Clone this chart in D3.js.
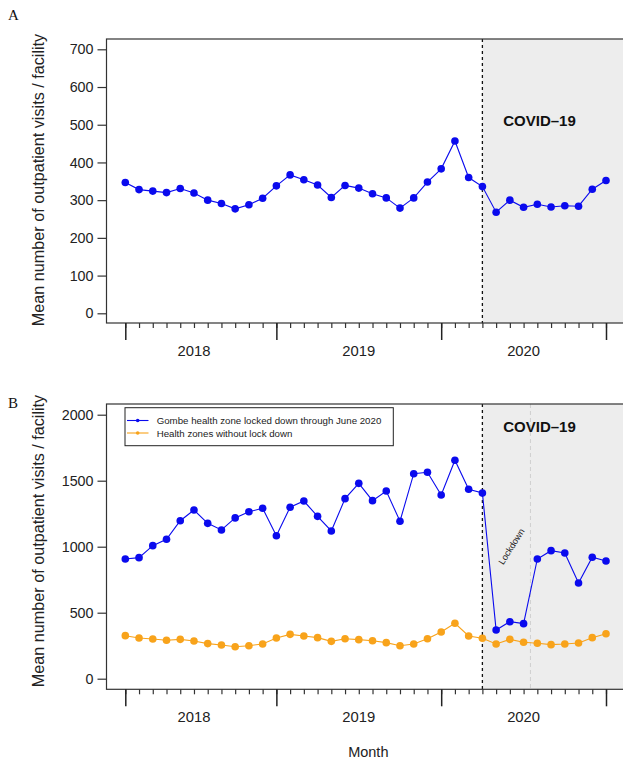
<!DOCTYPE html>
<html>
<head>
<meta charset="utf-8">
<script src="https://cdn.jsdelivr.net/npm/d3@7"></script>
<style>
html,body{margin:0;padding:0;background:#fff;overflow:hidden;}
svg{display:block;}
</style>
</head>
<body>
<svg id="chart" width="623" height="761"></svg>
<script>
// ---- data ----
const months = d3.range(36); // Jan 2018 .. Dec 2020 (month index)
const yearLabels = ["2018", "2019", "2020"];
const yearLabelIdx = [5, 17, 29];
const majorTickIdx = [0, 11, 23, 35];
const covidStartIdx = 26;
const lockdownEndIdx = 29.5;

const allZones = [347, 328, 324, 320, 331, 319, 300, 291, 277, 288, 305, 338,
                  367, 354, 340, 307, 339, 332, 317, 306, 279, 306, 348, 383,
                  457, 360, 336, 268, 300, 281, 289, 282, 285, 284, 329, 352];

const gombe = [907, 917, 1008, 1056, 1197, 1278, 1177, 1127, 1218, 1265, 1291, 1083,
               1299, 1346, 1230, 1119, 1364, 1480, 1349, 1422, 1193, 1553, 1564, 1392,
               1655, 1435, 1407, 369, 432, 417, 907, 970, 952, 725, 920, 892];

const otherZones = [326, 308, 301, 291, 298, 286, 266, 255, 242, 250, 263, 308,
                    336, 323, 311, 283, 303, 296, 288, 273, 250, 263, 303, 354,
                    420, 324, 306, 263, 298, 276, 268, 258, 263, 271, 311, 341];

const ticksA = [0, 100, 200, 300, 400, 500, 600, 700];
const ticksB = [0, 500, 1000, 1500, 2000];
const legendLabels = ["Gombe health zone locked down through June 2020", "Health zones without lock down"];

// ---- style ----
const BLUE = "#0a0aee";
const ORANGE = "#f8a31b";
const FONT = "'Liberation Sans', Arial, Helvetica, sans-serif";

const svg = d3.select("#chart");
const x = d3.scaleLinear().domain([0, 35]).range([125.3, 606]);

function panel(opts) {
  const g = svg.append("g");
  const y = d3.scaleLinear().domain(opts.domain).range(opts.yRange);
  const L = 106.5, R = 660, T = opts.top, B = opts.bottom;

  // shaded COVID region
  g.append("rect").attr("x", x(covidStartIdx)).attr("y", T)
    .attr("width", R - x(covidStartIdx)).attr("height", B - T)
    .attr("fill", "#ededed");

  if (opts.lockdown) {
    g.append("line").attr("x1", x(lockdownEndIdx)).attr("x2", x(lockdownEndIdx))
      .attr("y1", T).attr("y2", B)
      .attr("stroke", "#cfcfcf").attr("stroke-width", 1).attr("stroke-dasharray", "4,3");
    g.append("text")
      .attr("transform", `translate(${511.5},${546.5}) rotate(-58)`)
      .attr("text-anchor", "middle").attr("dominant-baseline", "central")
      .attr("font-family", FONT).attr("font-size", 9).attr("fill", "#222")
      .text("Lockdown");
  }

  // COVID dashed line
  g.append("line").attr("x1", x(covidStartIdx)).attr("x2", x(covidStartIdx))
    .attr("y1", T).attr("y2", B)
    .attr("stroke", "#111").attr("stroke-width", 1.3).attr("stroke-dasharray", "3,3");

  g.append("text").attr("x", 539.5).attr("y", opts.covidY)
    .attr("text-anchor", "middle").attr("dominant-baseline", "central")
    .attr("font-family", FONT).attr("font-size", 15).attr("font-weight", "bold")
    .attr("fill", "#111").text("COVID\u201319");

  // box
  g.append("rect").attr("x", L).attr("y", T).attr("width", R - L).attr("height", B - T)
    .attr("fill", "none").attr("stroke", "#333").attr("stroke-width", 1.2);

  // y axis
  const yAxis = d3.axisLeft(y).tickValues(opts.ticks).tickSize(9).tickPadding(4)
    .tickFormat(d3.format("d"));
  const ya = g.append("g").attr("transform", `translate(${L},0)`).call(yAxis);
  ya.select(".domain").remove();
  ya.selectAll("line").attr("stroke", "#333").attr("stroke-width", 1.2);
  ya.selectAll("text").attr("font-family", FONT).attr("font-size", 14.3).attr("fill", "#222");

  // x axis minor ticks
  const xMinor = d3.axisBottom(x).tickValues(months).tickSize(5).tickFormat("");
  const xm = g.append("g").attr("transform", `translate(0,${B})`).call(xMinor);
  xm.select(".domain").remove();
  xm.selectAll("line").attr("stroke", "#333").attr("stroke-width", 1.2);
  // major ticks
  const xMajor = d3.axisBottom(x).tickValues(majorTickIdx).tickSize(17).tickFormat("");
  const xM = g.append("g").attr("transform", `translate(0,${B})`).call(xMajor);
  xM.select(".domain").remove();
  xM.selectAll("line").attr("stroke", "#222").attr("stroke-width", 1.5);

  // year labels
  g.selectAll(".yr").data(yearLabels).enter().append("text")
    .attr("x", (d, i) => x(yearLabelIdx[i])).attr("y", opts.yearY)
    .attr("text-anchor", "middle").attr("dominant-baseline", "central")
    .attr("font-family", FONT).attr("font-size", 14.8).attr("fill", "#222")
    .text(d => d);

  // y title
  g.append("text")
    .attr("transform", `translate(37.5,${opts.titleY}) rotate(-90)`)
    .attr("text-anchor", "middle").attr("dominant-baseline", "central")
    .attr("font-family", FONT).attr("font-size", 16.2).attr("fill", "#222")
    .text("Mean number of outpatient visits / facility");

  // panel letter
  svg.append("text").attr("x", 8).attr("y", opts.letterY)
    .attr("font-family", "'Liberation Serif', 'Times New Roman', serif")
    .attr("font-size", 15).attr("fill", "#111").text(opts.letter);

  // series
  opts.series.forEach(s => {
    g.append("path").datum(s.values)
      .attr("fill", "none").attr("stroke", s.color).attr("stroke-width", 1.1)
      .attr("d", d3.line().x((d, i) => x(i)).y(d => y(d)));
    g.selectAll(null).data(s.values).enter().append("circle")
      .attr("cx", (d, i) => x(i)).attr("cy", d => y(d)).attr("r", 3.8)
      .attr("fill", s.color);
  });

  if (opts.legend) {
    const lg = g.append("g");
    lg.append("rect").attr("x", 125).attr("y", 407.7).attr("width", 268.3).attr("height", 38)
      .attr("fill", "#fff").attr("stroke", "#222").attr("stroke-width", 1);
    const cols = [BLUE, ORANGE];
    const ys = [420.5, 433];
    legendLabels.forEach((lab, i) => {
      lg.append("line").attr("x1", 127).attr("x2", 148.5).attr("y1", ys[i]).attr("y2", ys[i])
        .attr("stroke", cols[i]).attr("stroke-width", 1.1);
      lg.append("circle").attr("cx", 137.7).attr("cy", ys[i]).attr("r", 1.8).attr("fill", cols[i]);
      lg.append("text").attr("x", 156.7).attr("y", ys[i])
        .attr("dominant-baseline", "central")
        .attr("font-family", FONT).attr("font-size", 9.7).attr("fill", "#222").text(lab);
    });
  }
}

panel({
  letter: "A", letterY: 20,
  domain: [0, 700], yRange: [313.3, 49.3], top: 39, bottom: 323,
  ticks: ticksA, yearY: 351, titleY: 180, covidY: 120,
  series: [{ values: allZones, color: BLUE }]
});

panel({
  letter: "B", letterY: 408,
  domain: [0, 2000], yRange: [678.7, 414.7], top: 404, bottom: 689.3,
  ticks: ticksB, yearY: 716.7, titleY: 541, covidY: 426.7,
  lockdown: true, legend: true,
  series: [{ values: gombe, color: BLUE }, { values: otherZones, color: ORANGE }]
});

svg.append("text").attr("x", 368.3).attr("y", 751.5)
  .attr("text-anchor", "middle").attr("dominant-baseline", "central")
  .attr("font-family", FONT).attr("font-size", 14.5).attr("fill", "#222").text("Month");
</script>
</body>
</html>
